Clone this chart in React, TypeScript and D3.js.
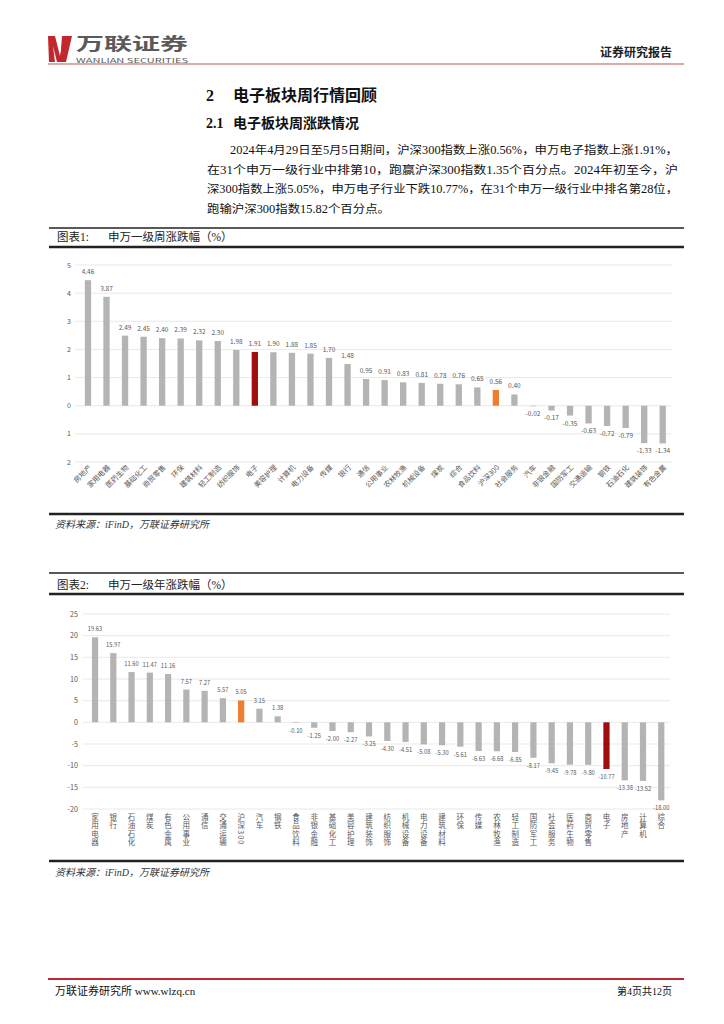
import React from "react";
import * as d3 from "d3";

const cats1 = ["房地产","家用电器","医药生物","基础化工","商贸零售","环保","建筑材料","轻工制造","纺织服饰","电子","美容护理","计算机","电力设备","传媒","银行","通信","公用事业","农林牧渔","机械设备","煤炭","综合","食品饮料","沪深300","社会服务","汽车","非银金融","国防军工","交通运输","钢铁","石油石化","建筑装饰","有色金属"];
const vals1 = [4.46,3.87,2.49,2.45,2.40,2.39,2.32,2.30,1.98,1.91,1.90,1.88,1.85,1.70,1.48,0.95,0.91,0.83,0.81,0.78,0.76,0.65,0.56,0.40,-0.02,-0.17,-0.35,-0.63,-0.72,-0.79,-1.33,-1.34];
const ticks1 = [5,4,3,2,1,0,-1,-2];

const cats2 = ["家用电器","银行","石油石化","煤炭","有色金属","公用事业","通信","交通运输","沪深300","汽车","钢铁","食品饮料","非银金融","基础化工","美容护理","建筑装饰","纺织服饰","机械设备","电力设备","建筑材料","环保","传媒","农林牧渔","轻工制造","国防军工","社会服务","医药生物","商贸零售","电子","房地产","计算机","综合"];
const vals2 = [19.63,15.97,11.60,11.47,11.16,7.57,7.27,5.57,5.05,3.15,1.38,-0.10,-1.25,-2.00,-2.27,-3.25,-4.30,-4.51,-5.08,-5.30,-5.61,-6.63,-6.68,-6.85,-8.17,-9.45,-9.78,-9.80,-10.77,-13.38,-13.52,-18.00];
const ticks2 = [25,20,15,10,5,0,-5,-10,-15,-20];

const paraLines = [
  "2024年4月29日至5月5日期间，沪深300指数上涨0.56%，申万电子指数上涨1.91%，",
  "在31个申万一级行业中排第10，跑赢沪深300指数1.35个百分点。2024年初至今，沪",
  "深300指数上涨5.05%，申万电子行业下跌10.77%，在31个申万一级行业中排名第28位，",
  "跑输沪深300指数15.82个百分点。",
];

const SERIF = "'Liberation Serif', 'DejaVu Serif', 'Noto Sans CJK SC', serif";
const SANS = "'Noto Sans CJK SC', 'Noto Sans', sans-serif";
const GRAY = "#b4b4b4";
const RED = "#a00d0d";
const ORANGE = "#ed7d31";
const TXT = "#595959";

function barColor(c: string) {
  if (c === "电子") return RED;
  if (c === "沪深300") return ORANGE;
  return GRAY;
}

function Chart1() {
  const x = d3.scaleBand<string>().domain(cats1).range([78.7, 672]).paddingInner(0.66).paddingOuter(0.33);
  const y = d3.scaleLinear().domain([-2, 5]).range([462, 265]);
  const bw = x.bandwidth();
  return (
    <g>
      {ticks1.map((t) => (
        <g key={t}>
          <line x1={75} x2={672} y1={y(t)} y2={y(t)} stroke="#e3e3e3" strokeWidth={0.8} />
          <text x={71} y={y(t) + 2.5} fontSize={7} fill={TXT} textAnchor="end" fontFamily={SANS}>{Math.abs(t)}</text>
        </g>
      ))}
      {cats1.map((c, i) => {
        const v = vals1[i];
        const x0 = x(c)!;
        const top = y(Math.max(0, v));
        const h = Math.abs(y(v) - y(0));
        const cx = x0 + bw / 2;
        return (
          <g key={c}>
            <rect x={x0} y={top} width={bw} height={Math.max(h, 0.6)} fill={barColor(c)} />
            <text x={cx} y={v >= 0 ? y(v) - 6 : y(v) + 10} fontSize={6.5} fill={TXT} textAnchor="middle" fontFamily={SANS}>{v.toFixed(2)}</text>
            <text transform={`translate(${cx + 4},${468}) rotate(-45)`} fontSize={7.2} fill={TXT} textAnchor="end" fontFamily={SANS}>{c}</text>
          </g>
        );
      })}
    </g>
  );
}

function Chart2() {
  const x = d3.scaleBand<string>().domain(cats2).range([85.9, 670.4]).paddingInner(0.66).paddingOuter(0.33);
  const y = d3.scaleLinear().domain([-20, 25]).range([809, 614]);
  const bw = x.bandwidth();
  return (
    <g>
      {ticks2.map((t) => (
        <g key={t}>
          <line x1={83} x2={670} y1={y(t)} y2={y(t)} stroke="#e3e3e3" strokeWidth={0.8} />
          <text x={78} y={y(t) + 2.5} fontSize={7.2} fill={TXT} textAnchor="end" fontFamily={SANS}>{t}</text>
        </g>
      ))}
      {cats2.map((c, i) => {
        const v = vals2[i];
        const x0 = x(c)!;
        const top = y(Math.max(0, v));
        const h = Math.abs(y(v) - y(0));
        const cx = x0 + bw / 2;
        return (
          <g key={c}>
            <rect x={x0} y={top} width={bw} height={Math.max(h, 0.6)} fill={barColor(c)} />
            <text x={cx} y={v >= 0 ? y(v) - 6 : y(v) + 10} fontSize={5.8} fill={TXT} textAnchor="middle" fontFamily={SANS}>{v.toFixed(2)}</text>
            <text x={cx} y={813} fontSize={7.5} fill={TXT} fontFamily={SANS}
              style={{ writingMode: "vertical-rl", letterSpacing: "1px" }}>{c}</text>
          </g>
        );
      })}
    </g>
  );
}

export default function App() {
  return (
    <svg width={724} height={1024} style={{ position: "absolute", left: 0, top: 0, background: "#fff" }}>
      {/* header */}
      <path d="M48,36 L55,36 L60,56 L64,36 L70,36 L64,62 L57,62 L53,46 L55,62 L49,62 Z" fill="#c0282d" />
      <path d="M62,36 L72,36 L66,62 L60,62 Z" fill="#c0282d" />
      <text x={76} y={50} fontSize={17} fontWeight="bold" fill="#5a5a5a" fontFamily={SANS} textLength={112} lengthAdjust="spacingAndGlyphs">万联证券</text>
      <text x={76} y={63} fontSize={6.5} fill="#5a5a5a" fontFamily={SANS} textLength={112} lengthAdjust="spacingAndGlyphs">WANLIAN SECURITIES</text>
      <text x={672} y={57} fontSize={12} fontWeight="bold" fill="#222" fontFamily={SERIF} textAnchor="end">证券研究报告</text>
      <line x1={48} x2={684} y1={64} y2={64} stroke="#c0504d" strokeWidth={1.2} />

      {/* headings */}
      <text x={206} y={101} fontSize={16} fontWeight="bold" fill="#111" fontFamily={SERIF}>2</text>
      <text x={233} y={101} fontSize={16} fontWeight="bold" fill="#111" fontFamily={SERIF}>电子板块周行情回顾</text>
      <text x={206} y={128} fontSize={14} fontWeight="bold" fill="#111" fontFamily={SERIF}>2.1</text>
      <text x={233} y={128} fontSize={14} fontWeight="bold" fill="#111" fontFamily={SERIF}>电子板块周涨跌情况</text>
      {paraLines.map((l, i) => (
        <text key={i} x={i === 0 ? 230 : 207} y={154 + i * 19.5} fontSize={11.5} fill="#111" fontFamily={SERIF}
          textLength={i === 0 ? 448 : i === 3 ? 183 : 471} lengthAdjust="spacingAndGlyphs">{l}</text>
      ))}

      {/* chart 1 frame */}
      <line x1={49} x2={684} y1={228} y2={228} stroke="#222" strokeWidth={1.5} />
      <text x={57} y={241} fontSize={11.5} fill="#222" fontFamily={SERIF}>图表1:</text>
      <text x={108} y={241} fontSize={11.5} fill="#222" fontFamily={SERIF}>申万一级周涨跌幅（%）</text>
      <line x1={49} x2={684} y1={247} y2={247} stroke="#222" strokeWidth={2.5} />
      <Chart1 />
      <line x1={49} x2={684} y1={514} y2={514} stroke="#222" strokeWidth={2.5} />
      <text x={55} y={528} fontSize={10} fill="#333" fontStyle="italic" fontFamily={SERIF}>资料来源：iFinD，万联证券研究所</text>

      {/* chart 2 frame */}
      <line x1={49} x2={684} y1={573} y2={573} stroke="#222" strokeWidth={1.5} />
      <text x={57} y={589} fontSize={11.5} fill="#222" fontFamily={SERIF}>图表2:</text>
      <text x={108} y={589} fontSize={11.5} fill="#222" fontFamily={SERIF}>申万一级年涨跌幅（%）</text>
      <line x1={49} x2={684} y1={594} y2={594} stroke="#222" strokeWidth={2.5} />
      <Chart2 />
      <line x1={49} x2={684} y1={861} y2={861} stroke="#222" strokeWidth={2.5} />
      <text x={55} y={876} fontSize={10} fill="#333" fontStyle="italic" fontFamily={SERIF}>资料来源：iFinD，万联证券研究所</text>

      {/* footer */}
      <line x1={48} x2={684} y1={979} y2={979} stroke="#c0282d" strokeWidth={1.8} />
      <text x={55} y={995} fontSize={11} fill="#111" fontFamily={SERIF}>万联证券研究所  www.wlzq.cn</text>
      <text x={672} y={995} fontSize={10} fill="#111" fontFamily={SERIF} textAnchor="end">第4页共12页</text>
    </svg>
  );
}
